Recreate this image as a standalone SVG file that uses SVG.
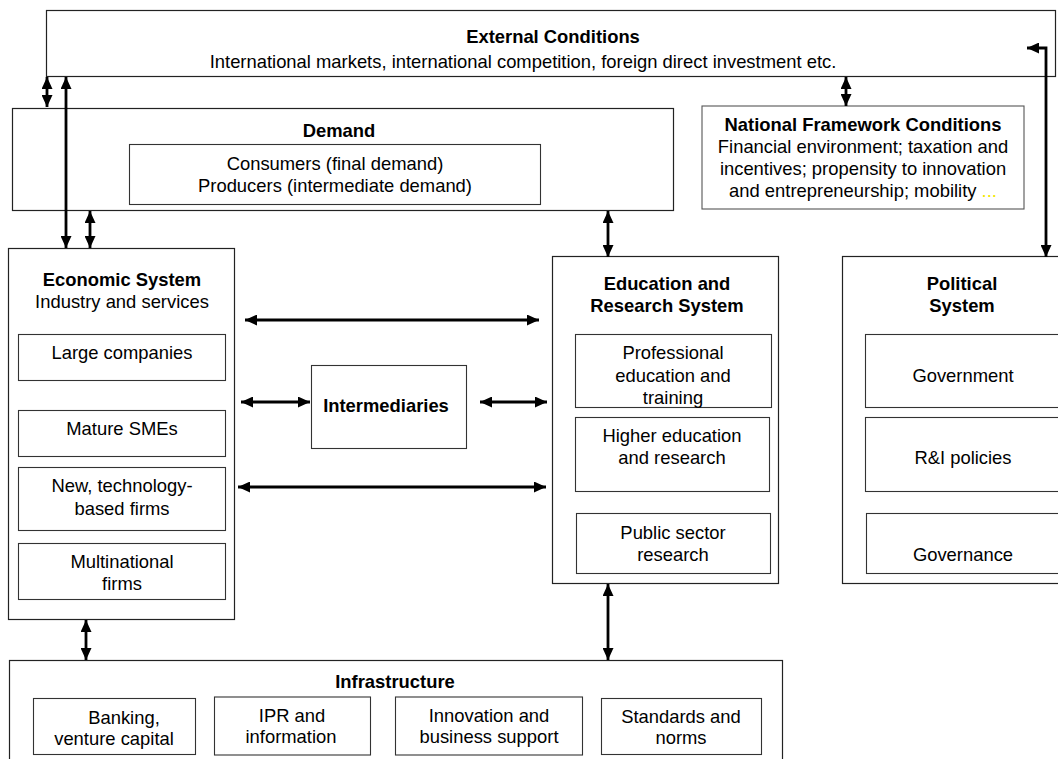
<svg xmlns="http://www.w3.org/2000/svg" width="1058" height="759" viewBox="0 0 1058 759">
<style>
  .box{fill:#fff;stroke:#222;stroke-width:1.2}
  .sub{fill:#fff;stroke:#333;stroke-width:1.1}
  text{font-family:"Liberation Sans",Arial,sans-serif;font-size:18.4px;fill:#000;text-anchor:middle}
  .b{font-weight:bold}
  .arr{fill:none;stroke:#000;stroke-width:2.8;marker-start:url(#ah);marker-end:url(#ah)}
</style>
<defs>
  <marker id="ah" markerUnits="userSpaceOnUse" markerWidth="12" markerHeight="11" viewBox="0 0 12 11" refX="12" refY="5.5" orient="auto-start-reverse">
    <path d="M0,0 L12,5.5 L0,11 z" fill="#000"/>
  </marker>
</defs>
<rect width="1058" height="759" fill="#fff"/>

<g id="external">
  <rect class="box" x="46.5" y="10.5" width="1009" height="66"/>
  <text class="b" x="553" y="43">External Conditions</text>
  <text x="523" y="68">International markets, international competition, foreign direct investment etc.</text>
</g>

<g id="demand">
  <rect class="box" x="12.5" y="108.5" width="661" height="102"/>
  <text class="b" x="339" y="137">Demand</text>
  <rect class="sub" x="129.5" y="144.5" width="411" height="60"/>
  <text x="335" y="170">Consumers (final demand)</text>
  <text x="335" y="192">Producers (intermediate demand)</text>
</g>

<g id="national-framework">
  <rect class="sub" x="702" y="106" width="322" height="103" style="stroke:#555"/>
  <text class="b" x="863" y="131">National Framework Conditions</text>
  <text x="863" y="153">Financial environment; taxation and</text>
  <text x="863" y="175">incentives; propensity to innovation</text>
  <text x="863" y="197">and entrepreneurship; mobility <tspan fill="#f2e600">...</tspan></text>
</g>

<g id="economic-system">
  <rect class="box" x="8.5" y="248.5" width="226" height="371"/>
  <text class="b" x="122" y="286">Economic System</text>
  <text x="122" y="308">Industry and services</text>
  <rect class="sub" x="18.5" y="334.5" width="207" height="46"/>
  <text x="122" y="359">Large companies</text>
  <rect class="sub" x="18.5" y="410.5" width="207" height="46"/>
  <text x="122" y="435">Mature SMEs</text>
  <rect class="sub" x="18.5" y="467.5" width="207" height="63"/>
  <text x="122" y="492">New, technology-</text>
  <text x="122" y="515">based firms</text>
  <rect class="sub" x="18.5" y="543.5" width="207" height="56"/>
  <text x="122" y="568">Multinational</text>
  <text x="122" y="590">firms</text>
</g>

<g id="intermediaries">
  <rect class="sub" x="311.5" y="365.5" width="155" height="83"/>
  <text class="b" x="386" y="412">Intermediaries</text>
</g>

<g id="education-research">
  <rect class="box" x="552.5" y="256.5" width="226" height="327"/>
  <text class="b" x="667" y="290">Education and</text>
  <text class="b" x="667" y="312">Research System</text>
  <rect class="sub" x="575.5" y="334.5" width="196" height="73"/>
  <text x="673" y="359">Professional</text>
  <text x="673" y="382">education and</text>
  <text x="673" y="404">training</text>
  <rect class="sub" x="575.5" y="417.5" width="194" height="74"/>
  <text x="672" y="442">Higher education</text>
  <text x="672" y="464">and research</text>
  <rect class="sub" x="576.5" y="513.5" width="194" height="60"/>
  <text x="673" y="539">Public sector</text>
  <text x="673" y="561">research</text>
</g>

<g id="political-system">
  <rect class="box" x="842.5" y="256.5" width="230" height="327"/>
  <text class="b" x="962" y="290">Political</text>
  <text class="b" x="962" y="312">System</text>
  <rect class="sub" x="865.5" y="334.5" width="210" height="73"/>
  <text x="963" y="382">Government</text>
  <rect class="sub" x="865.5" y="417.5" width="210" height="74"/>
  <text x="963" y="464">R&amp;I policies</text>
  <rect class="sub" x="866.5" y="513.5" width="210" height="60"/>
  <text x="963" y="561">Governance</text>
</g>

<g id="infrastructure">
  <rect class="box" x="9.5" y="660.5" width="773" height="110"/>
  <text class="b" x="395" y="688">Infrastructure</text>
  <rect class="sub" x="33.5" y="698.5" width="162" height="56"/>
  <text x="124" y="724">Banking,</text>
  <text x="114" y="745">venture capital</text>
  <rect class="sub" x="214.5" y="697" width="156" height="58"/>
  <text x="292" y="722">IPR and</text>
  <text x="291" y="743">information</text>
  <rect class="sub" x="395.5" y="697" width="187" height="58"/>
  <text x="489" y="722">Innovation and</text>
  <text x="489" y="743">business support</text>
  <rect class="sub" x="601.5" y="698.5" width="160" height="56"/>
  <text x="681" y="723">Standards and</text>
  <text x="681" y="744">norms</text>
</g>

<g id="connectors">
  <path class="arr" d="M47,77 V107"/>
  <path class="arr" d="M66,77 V248"/>
  <path class="arr" d="M90,211 V248"/>
  <path class="arr" d="M846,77 V106"/>
  <path class="arr" d="M608,211 V257"/>
  <path class="arr" d="M1027,48 H1046 V257"/>
  <path class="arr" d="M245,320 H539"/>
  <path class="arr" d="M241,402 H310"/>
  <path class="arr" d="M480,402 H547"/>
  <path class="arr" d="M238,487 H546"/>
  <path class="arr" d="M86,620 V660"/>
  <path class="arr" d="M608,584 V660"/>
</g>
</svg>
